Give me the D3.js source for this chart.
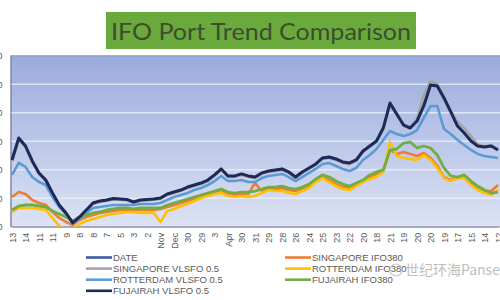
<!doctype html>
<html>
<head>
<meta charset="utf-8">
<style>
    body { margin: 0; background: #fff; }
    .xlab, .ylab { font-family: "Liberation Sans", sans-serif; font-size: 9px; fill: #595959; }
    .leg { font-family: "Liberation Sans", sans-serif; font-size: 9.5px; fill: #595959; }
</style>
<script src="https://d3js.org/d3.v7.min.js"></script>
</head>
<body>
<svg width="500" height="300"></svg>
<script>

    // x axis labels (dates, one per label slot)
    var xLabels = ["13","14","11","11","9","8","8","7","5","3","2","Nov","Dec","30","29","3","Apr","30",
                   "31","29","28","26","24","25","23","22","20","18","21","19","20","20","19","17","15","14","12"];
    var yTicks = [200, 400, 600, 800, 1000, 1200, 1400];

    // prices sampled every half label slot
    var fujairahVlsfo = [669,823,767,662,578,528,437,353,297,227,269,318,367,381,388,399,395,392,374,388,
                         392,395,402,430,444,458,479,493,507,528,564,606,557,557,571,557,549,578,592,599,
                         606,585,549,585,613,641,683,690,676,655,648,669,732,767,802,893,1069,992,914,893,
                         942,1048,1195,1188,1104,1006,907,858,802,767,760,767,739];
    var singaporeVlsfo = [660,810,760,655,570,520,430,345,290,225,265,312,360,375,382,392,390,386,370,382,
                          386,390,396,424,438,452,472,486,500,520,556,598,550,550,564,550,542,570,585,592,
                          598,578,542,578,606,634,676,683,668,648,640,662,725,760,796,885,1050,985,920,900,
                          955,1125,1223,1202,1110,1015,935,893,837,775,765,772,742];
    var rotterdamVlsfo = [564,648,620,549,514,493,409,339,290,227,255,297,332,339,346,353,353,353,353,360,
                          360,360,367,388,409,423,437,458,472,493,521,557,521,521,528,514,514,542,557,564,
                          571,549,521,549,578,606,641,648,627,606,592,613,669,704,746,809,872,851,837,851,
                          879,964,1048,1048,886,851,809,774,739,711,697,690,683];
    var singaporeIfo = [409,444,430,388,367,353,304,262,234,213,248,269,283,297,304,311,318,318,318,318,
                        318,318,325,339,353,367,381,395,416,430,444,458,430,423,430,430,507,451,472,465,
                        472,458,451,465,486,528,557,528,500,479,472,493,521,549,571,592,739,711,725,711,
                        697,718,683,627,549,528,542,549,507,472,451,451,493];
    var rotterdamIfo = [304,332,332,332,325,318,262,206,178,185,220,241,255,269,283,290,297,304,304,297,
                        297,297,234,311,325,346,360,381,402,416,430,437,416,409,416,409,416,437,458,451,
                        451,437,430,451,472,514,542,514,486,465,458,486,514,535,549,585,795,697,683,676,
                        669,704,669,613,542,521,542,542,493,458,437,423,458];
    var fujairahIfo = [318,346,353,353,346,339,311,290,269,241,269,283,297,304,318,325,332,332,325,332,
                       332,332,332,353,367,381,395,409,423,437,451,465,444,437,444,444,451,465,479,479,
                       486,472,465,479,500,535,564,549,521,500,486,507,528,564,585,599,739,746,788,795,
                       753,767,753,704,613,557,549,564,521,486,458,437,444];

    var svg = d3.select("svg");
    var plotLeft = 11, plotRight = 512, plotTop = 55.8, plotBottom = 226.8;

    var x = d3.scaleLinear().domain([0, 36]).range([12, 498]);
    var y = d3.scaleLinear().domain([200, 1400]).range([plotBottom, plotTop]);

    var defs = svg.append("defs");
    var grad = defs.append("linearGradient").attr("id", "bg")
        .attr("x1", 0).attr("y1", 0).attr("x2", 0).attr("y2", 1);
    grad.append("stop").attr("offset", "0%").attr("stop-color", "#9aabdd");
    grad.append("stop").attr("offset", "100%").attr("stop-color", "#dde3f4");
    defs.append("clipPath").attr("id", "clip")
        .append("rect").attr("x", plotLeft).attr("y", plotTop)
        .attr("width", plotRight - plotLeft).attr("height", plotBottom - plotTop);

    // title box
    svg.append("rect").attr("x", 106).attr("y", 12).attr("width", 310).attr("height", 37).attr("fill", "#6aa93c");
    svg.append("text").attr("x", 261).attr("y", 39.5).attr("text-anchor", "middle")
       .attr("font-family", "Lato, sans-serif").attr("font-size", "24px").attr("fill", "#3c4e31")
       .attr("textLength", 300).attr("lengthAdjust", "spacingAndGlyphs")
       .text("IFO Port Trend Comparison");

    // plot area
    svg.append("rect").attr("x", plotLeft).attr("y", plotTop)
       .attr("width", plotRight - plotLeft).attr("height", plotBottom - plotTop)
       .attr("fill", "url(#bg)").attr("stroke", "#8f90b0").attr("stroke-width", 1);

    svg.append("g").selectAll("line").data(yTicks.slice(1, -1)).enter().append("line")
       .attr("x1", plotLeft).attr("x2", plotRight)
       .attr("y1", function(d) { return y(d); }).attr("y2", function(d) { return y(d); })
       .attr("stroke", "#eef1fb").attr("stroke-width", 1.5).attr("opacity", 0.8);

    // y labels sit almost fully outside the picture, only their last digit peeks in
    var ya = svg.append("g").attr("transform", "translate(2.5,0)")
       .call(d3.axisLeft(y).tickValues(yTicks).tickSize(0).tickPadding(0));
    ya.select(".domain").remove();
    ya.selectAll("text").attr("class", "ylab");

    // x labels
    var xa = svg.append("g").attr("transform", "translate(0," + plotBottom + ")")
       .call(d3.axisBottom(x).tickValues(d3.range(xLabels.length)).tickSize(0)
             .tickFormat(function(i) { return xLabels[i]; }));
    xa.select(".domain").attr("stroke", "#9a9ab0");
    xa.selectAll("text").attr("class", "xlab")
      .attr("transform", "rotate(-90)").attr("text-anchor", "end")
      .attr("x", -6).attr("y", 0).attr("dy", "0.35em");
    svg.append("line").attr("x1", plotLeft).attr("x2", plotLeft).attr("y1", plotTop).attr("y2", plotBottom)
       .attr("stroke", "#7f80a0");

    var series = [
        { name: "SINGAPORE IFO380", values: singaporeIfo, color: "#ed7d31", w: 2.6 },
        { name: "SINGAPORE VLSFO 0.5", values: singaporeVlsfo, color: "#a5a5a5", w: 2.6 },
        { name: "ROTTERDAM IFO380", values: rotterdamIfo, color: "#ffc000", w: 2.6 },
        { name: "ROTTERDAM VLSFO 0.5", values: rotterdamVlsfo, color: "#5b9bd5", w: 2.6 },
        { name: "FUJAIRAH IFO380", values: fujairahIfo, color: "#70ad47", w: 2.8 },
        { name: "FUJAIRAH VLSFO 0.5", values: fujairahVlsfo, color: "#1b2a58", w: 3 }
    ];

    var line = d3.line()
        .x(function(d, i) { return x(i / 2); })
        .y(function(d) { return y(d); });

    svg.append("g").attr("clip-path", "url(#clip)")
       .selectAll("path").data(series).enter().append("path")
       .attr("d", function(s) { return line(s.values); })
       .attr("fill", "none")
       .attr("stroke", function(s) { return s.color; })
       .attr("stroke-width", function(s) { return s.w; })
       .attr("stroke-linejoin", "round");

    // legend
    var legLeft = [["DATE", "#3b5ba5"], ["SINGAPORE VLSFO 0.5", "#a5a5a5"],
                   ["ROTTERDAM VLSFO 0.5", "#5b9bd5"], ["FUJAIRAH VLSFO 0.5", "#1b2a58"]];
    var legRight = [["SINGAPORE IFO380", "#ed7d31"], ["ROTTERDAM IFO380", "#ffc000"],
                    ["FUJAIRAH IFO380", "#70ad47"]];

    function legend(items, x0) {
        var g = svg.append("g").selectAll("g").data(items).enter().append("g")
            .attr("transform", function(d, i) { return "translate(" + x0 + "," + (257.5 + i * 11.1) + ")"; });
        g.append("line").attr("x1", 0).attr("x2", 26).attr("stroke", function(d) { return d[1]; })
         .attr("stroke-width", 2.6);
        g.append("text").attr("class", "leg").attr("x", 27).attr("dy", "0.35em")
         .text(function(d) { return d[0]; });
    }
    legend(legLeft, 86);
    legend(legRight, 285);

    // watermark
    svg.append("circle").attr("cx", 396).attr("cy", 270).attr("r", 6)
       .attr("fill", "none").attr("stroke", "#c8c8c8").attr("stroke-width", 1.2);
    svg.append("text").attr("x", 405).attr("y", 275)
       .attr("font-family", "'Noto Sans CJK SC', sans-serif").attr("font-size", "14px")
       .attr("fill", "#b8b8b8").attr("opacity", 0.9)
       .text("世纪环海Pansea");

</script>
</body>
</html>
